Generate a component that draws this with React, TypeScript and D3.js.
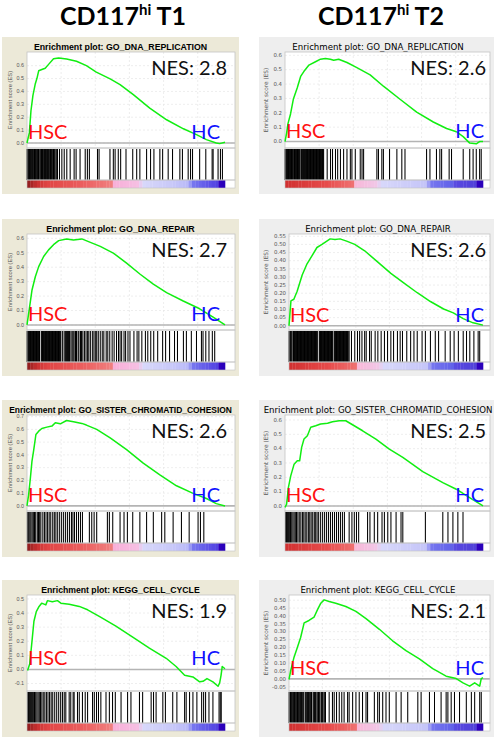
import React from "react";
import * as d3 from "d3";

// column headers
const headers = ["T1", "T2"];

// gene set titles and NES per column
const titlesT1 = ["GO_DNA_REPLICATION", "GO_DNA_REPAIR", "GO_SISTER_CHROMATID_COHESION", "KEGG_CELL_CYCLE"];
const titlesT2 = ["GO_DNA_REPLICATION", "GO_DNA_REPAIR", "GO_SISTER_CHROMATID_COHESION", "KEGG_CELL_CYCLE"];
const nesT1 = ["2.8", "2.7", "2.6", "1.9"];
const nesT2 = ["2.6", "2.6", "2.5", "2.1"];

// rank axis (only used for the vertical grid)
const rankTotal = 29000;
const rankTicks = [5000, 10000, 15000, 20000, 25000];

// y axis domains + ticks
const yDomT1 = [[-0.039, 0.706], [-0.035, 0.63], [-0.04, 0.713], [-0.153, 0.528]];
const yTicksT1 = [
  [0, 0.1, 0.2, 0.3, 0.4, 0.5, 0.6],
  [0, 0.1, 0.2, 0.3, 0.4, 0.5, 0.6],
  [0, 0.1, 0.2, 0.3, 0.4, 0.5, 0.6, 0.7],
  [-0.1, 0, 0.1, 0.2, 0.3, 0.4, 0.5],
];
const yDomT2 = [[-0.045, 0.623], [-0.026, 0.564], [-0.035, 0.635], [-0.077, 0.533]];
const yTicksT2 = [
  [0, 0.1, 0.2, 0.3, 0.4, 0.5, 0.6],
  [0, 0.05, 0.1, 0.15, 0.2, 0.25, 0.3, 0.35, 0.4, 0.45, 0.5, 0.55],
  [0, 0.1, 0.2, 0.3, 0.4, 0.5, 0.6],
  [-0.05, 0, 0.05, 0.1, 0.15, 0.2, 0.25, 0.3, 0.35, 0.4, 0.45, 0.5],
];

// running enrichment score: [rank fraction, ES]
const esRepT1 = [[0, 0], [0.012, 0.08], [0.02, 0.25], [0.03, 0.37], [0.042, 0.46], [0.05, 0.5], [0.059, 0.56], [0.075, 0.57], [0.092, 0.58], [0.109, 0.61], [0.134, 0.654], [0.16, 0.66], [0.2, 0.652], [0.25, 0.634], [0.3, 0.6], [0.35, 0.55], [0.42, 0.497], [0.47, 0.453], [0.537, 0.375], [0.62, 0.27], [0.705, 0.18], [0.79, 0.11], [0.856, 0.065], [0.906, 0.026], [0.956, 0.0], [0.973, -0.005], [1, 0.005]];
const esRepairT1 = [[0, 0], [0.013, 0.124], [0.025, 0.24], [0.042, 0.334], [0.059, 0.404], [0.084, 0.474], [0.109, 0.52], [0.134, 0.556], [0.16, 0.584], [0.2, 0.596], [0.235, 0.589], [0.277, 0.596], [0.32, 0.572], [0.37, 0.544], [0.436, 0.498], [0.503, 0.428], [0.57, 0.353], [0.638, 0.283], [0.705, 0.224], [0.789, 0.166], [0.872, 0.112], [0.94, 0.054], [1, 0]];
const esCohT1 = [[0, 0], [0.008, 0.085], [0.017, 0.217], [0.025, 0.349], [0.034, 0.44], [0.045, 0.56], [0.059, 0.586], [0.075, 0.607], [0.1, 0.618], [0.126, 0.626], [0.143, 0.652], [0.168, 0.644], [0.2, 0.67], [0.235, 0.66], [0.277, 0.647], [0.3, 0.634], [0.352, 0.6], [0.42, 0.534], [0.503, 0.441], [0.587, 0.335], [0.671, 0.243], [0.755, 0.158], [0.839, 0.098], [0.906, 0.058], [0.956, 0.018], [1, 0]];
const esCycT1 = [[0.003, -0.007], [0.014, 0.04], [0.027, 0.226], [0.035, 0.342], [0.047, 0.41], [0.061, 0.447], [0.074, 0.47], [0.095, 0.458], [0.103, 0.488], [0.128, 0.48], [0.154, 0.488], [0.171, 0.47], [0.213, 0.463], [0.264, 0.447], [0.306, 0.423], [0.365, 0.377], [0.449, 0.307], [0.534, 0.23], [0.618, 0.151], [0.703, 0.079], [0.753, 0.021], [0.796, -0.042], [0.838, -0.053], [0.872, -0.088], [0.889, -0.084], [0.909, -0.065], [0.939, -0.088], [0.965, -0.119], [0.973, -0.095], [0.98, -0.042], [0.986, 0.021], [1, 0.005]];

const esRepT2 = [[0, 0], [0.008, 0.057], [0.015, 0.125], [0.028, 0.192], [0.042, 0.294], [0.062, 0.374], [0.079, 0.453], [0.095, 0.487], [0.121, 0.532], [0.154, 0.555], [0.179, 0.573], [0.204, 0.577], [0.229, 0.573], [0.246, 0.566], [0.271, 0.573], [0.313, 0.55], [0.363, 0.514], [0.43, 0.464], [0.497, 0.385], [0.581, 0.294], [0.665, 0.204], [0.749, 0.136], [0.816, 0.091], [0.866, 0.068], [0.9, 0.034], [0.933, -0.011], [0.966, -0.016], [0.983, 0], [1, 0]];
const esRepairT2 = [[0, 0], [0.01, 0.153], [0.025, 0.163], [0.042, 0.212], [0.068, 0.312], [0.093, 0.381], [0.119, 0.431], [0.144, 0.481], [0.17, 0.5], [0.195, 0.52], [0.212, 0.534], [0.237, 0.53], [0.263, 0.534], [0.297, 0.52], [0.339, 0.5], [0.39, 0.461], [0.458, 0.391], [0.525, 0.322], [0.593, 0.262], [0.661, 0.203], [0.729, 0.149], [0.797, 0.103], [0.847, 0.079], [0.898, 0.044], [0.949, 0.018], [1, 0.004]];
const esCohT2 = [[0, -0.01], [0.008, 0.012], [0.017, 0.128], [0.029, 0.21], [0.046, 0.292], [0.062, 0.315], [0.074, 0.315], [0.084, 0.409], [0.096, 0.467], [0.113, 0.49], [0.13, 0.549], [0.155, 0.56], [0.18, 0.572], [0.215, 0.577], [0.24, 0.588], [0.274, 0.595], [0.307, 0.595], [0.341, 0.567], [0.392, 0.525], [0.459, 0.467], [0.527, 0.397], [0.595, 0.339], [0.696, 0.24], [0.797, 0.163], [0.865, 0.117], [0.932, 0.058], [1, 0]];
const esCycT2 = [[0, -0.004], [0.009, 0.054], [0.026, 0.138], [0.043, 0.2], [0.06, 0.263], [0.078, 0.356], [0.103, 0.371], [0.129, 0.392], [0.147, 0.44], [0.164, 0.481], [0.181, 0.502], [0.207, 0.492], [0.241, 0.481], [0.293, 0.46], [0.345, 0.429], [0.397, 0.383], [0.466, 0.315], [0.534, 0.242], [0.603, 0.179], [0.672, 0.127], [0.741, 0.065], [0.81, 0.017], [0.862, 0.002], [0.897, -0.025], [0.931, -0.046], [0.957, -0.025], [0.983, -0.046], [0.991, 0.002], [1, 0.008]];

// gene set hit positions (per mille of the ranked list)
const hitsRepT1 = [0, 3, 6, 9, 13, 16, 19, 22, 27, 30, 34, 38, 41, 44, 47, 52, 55, 58, 61, 66, 70, 73, 78, 82, 86, 89, 93, 97, 100, 104, 108, 112, 116, 119, 123, 127, 131, 134, 138, 142, 148, 154, 164, 176, 188, 201, 218, 238, 248, 268, 294, 305, 315, 356, 364, 419, 436, 445, 461, 473, 500, 534, 554, 570, 604, 624, 641, 671, 685, 713, 735, 772, 785, 814, 826, 836, 872, 903, 935, 940, 965, 977, 987];
const hitsRepairT1 = [0, 3, 6, 9, 12, 15, 18, 21, 24, 27, 30, 33, 36, 39, 42, 45, 48, 51, 54, 57, 60, 63, 72, 75, 78, 81, 84, 87, 90, 93, 96, 99, 102, 105, 108, 111, 114, 117, 120, 123, 126, 129, 132, 135, 138, 141, 144, 147, 150, 153, 156, 159, 162, 165, 168, 171, 180, 188, 195, 200, 205, 210, 215, 222, 228, 233, 238, 245, 250, 258, 262, 270, 275, 282, 290, 298, 305, 312, 320, 330, 338, 345, 352, 360, 370, 380, 388, 400, 408, 418, 430, 440, 452, 462, 470, 478, 490, 498, 510, 520, 540, 556, 565, 580, 598, 610, 625, 640, 660, 685, 700, 720, 745, 760, 790, 805, 830, 856, 881, 889, 903, 919, 936, 948];
const hitsCohT1 = [2, 6, 10, 15, 20, 26, 32, 38, 44, 52, 58, 64, 70, 80, 88, 96, 104, 112, 120, 130, 138, 146, 155, 165, 175, 185, 195, 205, 215, 225, 232, 240, 250, 260, 270, 280, 315, 327, 339, 352, 406, 416, 433, 470, 490, 507, 534, 570, 604, 638, 680, 696, 738, 780, 819, 864, 876, 893];
const hitsCycT1 = [4, 8, 12, 17, 22, 27, 32, 38, 44, 50, 56, 62, 68, 75, 82, 90, 98, 106, 114, 122, 130, 140, 150, 160, 170, 179, 188, 196, 213, 221, 233, 238, 255, 264, 280, 294, 306, 331, 340, 351, 361, 373, 399, 416, 432, 446, 475, 508, 525, 568, 584, 627, 639, 652, 686, 699, 736, 757, 796, 804, 821, 838, 858, 882, 892, 902, 919, 939, 970, 976, 981];

const hitsRepT2 = [0, 3, 6, 9, 12, 15, 18, 21, 24, 27, 30, 33, 36, 39, 42, 48, 51, 54, 57, 60, 63, 66, 69, 72, 75, 81, 84, 87, 90, 93, 99, 102, 105, 108, 111, 114, 117, 120, 123, 126, 129, 132, 135, 138, 141, 144, 147, 150, 153, 156, 159, 162, 165, 168, 171, 174, 177, 180, 183, 186, 189, 192, 195, 213, 230, 240, 255, 266, 280, 296, 313, 330, 338, 355, 380, 389, 397, 464, 472, 489, 497, 528, 565, 590, 606, 715, 732, 765, 782, 791, 829, 841, 900, 933, 950, 966, 983, 991];
const hitsRepairT2 = [0, 3, 6, 9, 12, 20, 23, 26, 29, 32, 35, 38, 41, 44, 47, 50, 53, 56, 59, 62, 65, 68, 71, 74, 77, 80, 83, 86, 89, 92, 95, 98, 101, 104, 107, 110, 113, 116, 119, 122, 125, 128, 131, 134, 137, 140, 143, 146, 156, 159, 162, 165, 168, 171, 174, 177, 180, 183, 186, 189, 192, 195, 198, 201, 204, 207, 210, 213, 216, 219, 222, 225, 233, 236, 239, 242, 245, 248, 251, 254, 257, 260, 263, 266, 269, 272, 275, 278, 281, 284, 287, 290, 293, 296, 299, 302, 305, 310, 322, 339, 353, 364, 376, 390, 398, 415, 424, 444, 458, 475, 492, 508, 525, 539, 559, 573, 585, 607, 627, 644, 661, 686, 703, 729, 754, 771, 805, 831, 851, 873, 898, 915, 932, 953, 975, 983];
const hitsCohT2 = [3, 8, 12, 17, 22, 28, 34, 40, 46, 52, 58, 65, 72, 80, 88, 95, 102, 110, 118, 125, 132, 140, 148, 155, 162, 170, 180, 190, 200, 210, 220, 230, 240, 250, 260, 270, 280, 290, 300, 324, 338, 350, 361, 372, 417, 429, 451, 468, 490, 502, 519, 535, 561, 586, 595, 709, 797, 823, 848, 873, 899];
const hitsCycT2 = [0, 4, 8, 12, 16, 20, 24, 28, 32, 36, 40, 44, 48, 52, 56, 60, 64, 68, 72, 76, 84, 88, 92, 96, 100, 104, 108, 112, 116, 124, 128, 132, 136, 140, 148, 152, 156, 160, 168, 172, 176, 184, 188, 207, 224, 233, 245, 259, 272, 284, 302, 310, 328, 345, 362, 379, 397, 405, 440, 457, 466, 483, 500, 517, 552, 578, 612, 664, 681, 724, 750, 784, 810, 819, 836, 853, 879, 914, 940, 957, 983, 991];

// ranked list metric colour bar stops
const barStopsT1 = [[0, "#8c1c1c"], [0.05, "#c83030"], [0.1, "#e04444"], [0.3, "#ec6262"], [0.43, "#f08080"], [0.44, "#f8b0d8"], [0.57, "#f6c0e4"], [0.58, "#d8d8fa"], [0.73, "#c8c8f8"], [0.82, "#b8b8f8"], [0.83, "#7a7af0"], [0.93, "#5a4ee6"], [0.965, "#5040e0"], [0.97, "#3000c0"], [1, "#2800b8"]];
const barStopsT2 = [[0, "#d03030"], [0.2, "#e64a4a"], [0.35, "#ef7272"], [0.355, "#f8b8d8"], [0.47, "#f0c8e8"], [0.48, "#d8d8fa"], [0.72, "#c4c4f8"], [0.73, "#7878f0"], [0.85, "#6060e8"], [0.86, "#5848e0"], [0.965, "#5040d8"], [0.97, "#3000c0"], [1, "#2800b8"]];

const rowTops = [37, 219, 400, 580];

function Panel({ col, row, title, nes, curve, hits, yDom, yTicks, stops }: any) {
  const left = col === 0;
  const top = rowTops[row];
  const px = left ? 2 : 259;
  const pw = left ? 237 : 240;
  const twoDec = yTicks.some((t: number) => Math.abs(t * 10 - Math.round(t * 10)) > 1e-6);
  const plotL = left ? 27 : twoDec ? 289 : 285;
  const plotR = left ? 235 : 490;
  const dataR = left ? 225 : 483;
  const esTop = top + 15, esBot = top + 111, hitBot = top + 143, barBot = top + 151;

  const x = d3.scaleLinear().domain([0, 1]).range([plotL, dataR]);
  const y = d3.scaleLinear().domain(yDom).range([esBot, esTop]);
  const line = d3.line<number[]>().x(d => x(d[0])).y(d => y(d[1]));
  const fmt = d3.format(twoDec ? ".2f" : ".1f");
  const color = d3.scaleLinear<string>()
    .domain(stops.map((s: any) => s[0]))
    .range(stops.map((s: any) => s[1]))
    .interpolate(d3.interpolateRgb);
  const nBlocks = 60;
  const blocks = d3.range(nBlocks).map(i => (i + 0.5) / nBlocks);

  const uiFont = left ? "Liberation Sans, Arial, sans-serif" : "DejaVu Sans, sans-serif";
  const bigFont = "Lato, sans-serif";
  const fullTitle = "Enrichment plot: " + title;

  return (
    <g>
      <rect x={px} y={top} width={pw} height={157} fill={left ? "#ece9d8" : "#eeeeee"} />
      {left ? (
        <text x={120.5} y={top + 12.5} textAnchor="middle" fontFamily={uiFont} fontWeight="bold" fontSize={8.8} fill="#000"
          textLength={fullTitle.length * 4.95} lengthAdjust="spacingAndGlyphs">
          {fullTitle}
        </text>
      ) : (
        <text x={378} y={top + 12.5} textAnchor="middle" fontFamily={uiFont} fontSize={8.6} fill="#000">
          {fullTitle}
        </text>
      )}
      {/* plot box */}
      <rect x={plotL} y={esTop} width={plotR - plotL} height={barBot - esTop} fill="#fff" />
      {/* grid */}
      {yTicks.map((t: number) => (
        <line key={"h" + t} x1={plotL} x2={plotR} y1={y(t)} y2={y(t)} stroke="#e2e2e2" strokeWidth={0.6} strokeDasharray="2,2" />
      ))}
      {rankTicks.map(r => (
        <line key={"v" + r} x1={x(r / rankTotal)} x2={x(r / rankTotal)} y1={esTop} y2={esBot} stroke="#e2e2e2" strokeWidth={0.6} strokeDasharray="2,2" />
      ))}
      <line x1={plotL} x2={plotR} y1={y(0)} y2={y(0)} stroke="#b4b4b4" strokeWidth={1.6} />
      {/* hits */}
      {hits.map((h: number, i: number) => (
        <line key={"k" + i} x1={x(h / 1000)} x2={x(h / 1000)} y1={esBot + 1} y2={hitBot} stroke="#000" strokeWidth={1.05} />
      ))}
      {/* ranked metric colour bar */}
      {blocks.map((b, i) => (
        <rect key={"b" + i} x={x(i / nBlocks)} y={hitBot} width={x((i + 1) / nBlocks) - x(i / nBlocks) + 0.3} height={barBot - hitBot} fill={color(b)} />
      ))}
      <rect x={plotL} y={esTop} width={plotR - plotL} height={esBot - esTop} fill="none" stroke="#c4c4c4" strokeWidth={0.8} />
      <rect x={plotL} y={esBot} width={plotR - plotL} height={hitBot - esBot} fill="none" stroke="#c4c4c4" strokeWidth={0.8} />
      <rect x={plotL} y={hitBot} width={plotR - plotL} height={barBot - hitBot} fill="none" stroke="#c4c4c4" strokeWidth={0.6} />
      {/* y axis */}
      {yTicks.map((t: number) => (
        <text key={"t" + t} x={plotL - 3} y={y(t) + 1.8} textAnchor="end" fontFamily={uiFont} fontSize={5.4} fill="#555">
          {fmt(t).replace("\u2212", "-")}
        </text>
      ))}
      <text transform={`translate(${left ? 12 : 268},${(esTop + esBot) / 2}) rotate(-90)`} textAnchor="middle"
        fontFamily={uiFont} fontSize={5.8} fill="#555">Enrichment score (ES)</text>
      {/* ES curve */}
      <path d={line(curve) || ""} fill="none" stroke="#11ee11" strokeWidth={1.5} strokeLinejoin="round" />
      {/* annotations */}
      <text x={plotR - (left ? 8 : 4)} y={esTop + 23} textAnchor="end" fontFamily={bigFont} fontSize={20} fill="#111">{"NES: " + nes}</text>
      <text x={plotL + 1} y={y(0) - 4} fontFamily={bigFont} fontSize={20} fill="#ff1010">HSC</text>
      <text x={left ? 220 : 484} y={y(0) - 4} textAnchor="end" fontFamily={bigFont} fontSize={20} fill="#1010ff">HC</text>
    </g>
  );
}

export default function App() {
  const colsData = [
    { titles: titlesT1, nes: nesT1, curves: [esRepT1, esRepairT1, esCohT1, esCycT1], hits: [hitsRepT1, hitsRepairT1, hitsCohT1, hitsCycT1], yDom: yDomT1, yTicks: yTicksT1, stops: barStopsT1 },
    { titles: titlesT2, nes: nesT2, curves: [esRepT2, esRepairT2, esCohT2, esCycT2], hits: [hitsRepT2, hitsRepairT2, hitsCohT2, hitsCycT2], yDom: yDomT2, yTicks: yTicksT2, stops: barStopsT2 },
  ];
  return (
    <div style={{ position: "absolute", left: 0, top: 0 }}>
      <svg width={494} height={737} style={{ display: "block", background: "#fff" }}>
        {headers.map((h, i) => (
          <text key={h} x={i === 0 ? 123 : 381} y={25} textAnchor="middle" fontFamily="Lato, sans-serif" fontWeight="bold" fontSize={25} fill="#000">
            CD117<tspan fontSize={15} dy={-10}>hi</tspan><tspan dy={10}>{" " + h}</tspan>
          </text>
        ))}
        {colsData.map((c, ci) =>
          c.titles.map((t, ri) => (
            <Panel key={ci + "-" + ri} col={ci} row={ri} title={t} nes={c.nes[ri]} curve={c.curves[ri]}
              hits={c.hits[ri]} yDom={c.yDom[ri]} yTicks={c.yTicks[ri]} stops={c.stops} />
          ))
        )}
      </svg>
    </div>
  );
}
